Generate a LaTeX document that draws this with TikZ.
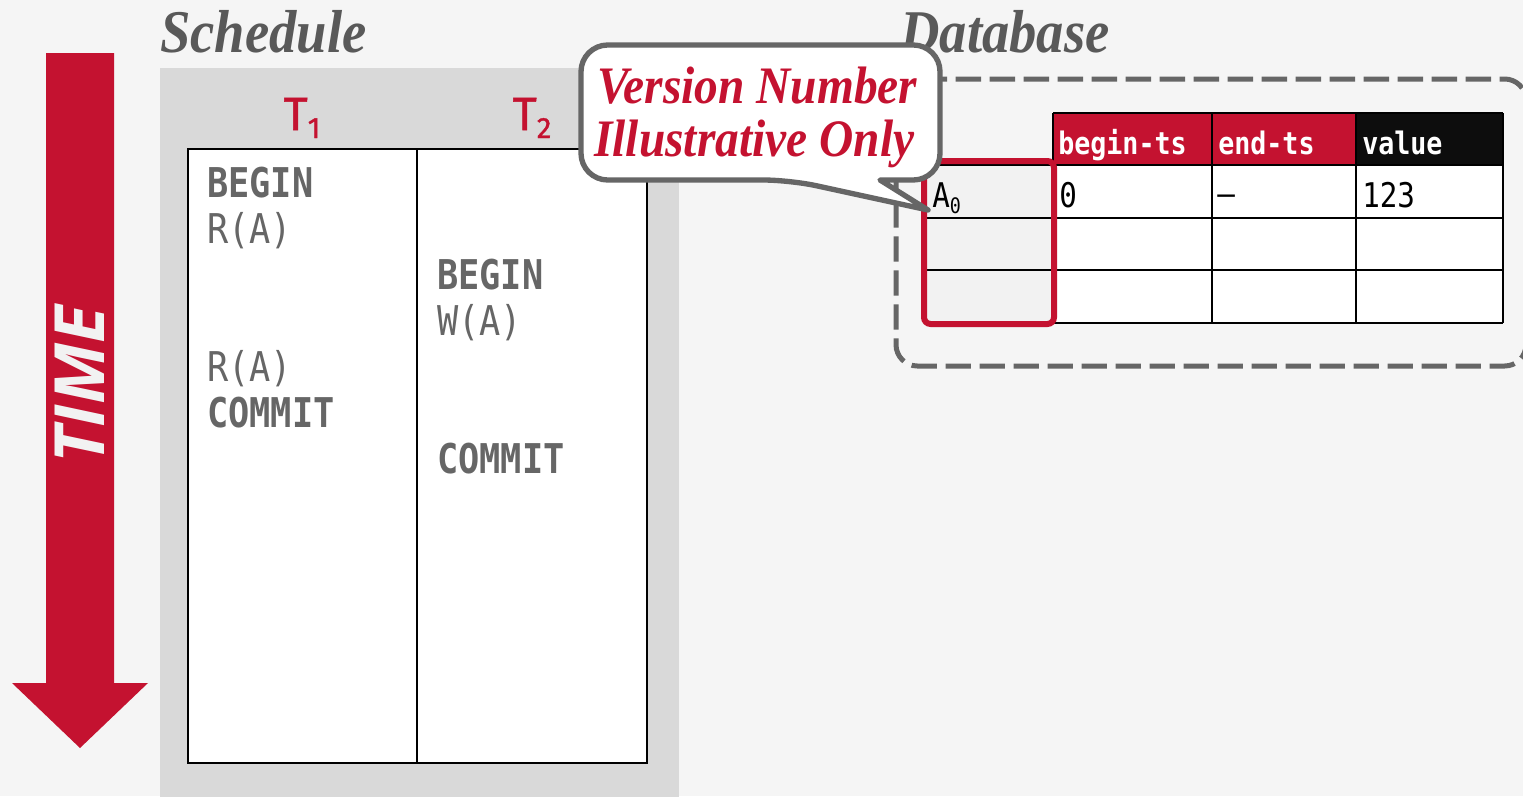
\documentclass[tikz,border=0pt]{standalone}
\usepackage{fontspec}
\setmainfont{Liberation Serif}
\newfontfamily\titlefont[FakeStretch=0.9]{Liberation Serif}
\newfontfamily\codefont[FakeStretch=0.86]{DejaVu Sans Mono}
\newfontfamily\labelfont[FakeBold=1.2]{Fira Sans}
\newfontfamily\arrowfont{Open Sans}
\definecolor{cmured}{HTML}{C41230}
\definecolor{pagebg}{HTML}{F5F5F5}
\definecolor{schedbg}{HTML}{D9D9D9}
\definecolor{inkgray}{HTML}{666666}
\definecolor{titlegray}{HTML}{595959}
\definecolor{keycell}{HTML}{F2F2F2}
\definecolor{headblack}{HTML}{0D0D0D}
\tikzset{
  heading/.style={anchor=base west, inner sep=0pt, text=titlegray,
    font=\titlefont\bfseries\itshape\fontsize{45.5pt}{45.5pt}\selectfont},
  txlabel/.style={anchor=base, inner sep=0pt, text=cmured,
    font=\labelfont\fontsize{35pt}{35pt}\selectfont},
  opbold/.style={anchor=base west, inner sep=0pt, text=inkgray,
    font=\codefont\bfseries\fontsize{30.75pt}{30.75pt}\selectfont},
  opplain/.style={anchor=base west, inner sep=0pt, text=inkgray,
    font=\codefont\fontsize{30.75pt}{30.75pt}\selectfont},
  colhead/.style={anchor=base west, inner sep=0pt, text=white,
    font=\codefont\bfseries\fontsize{23.25pt}{23.25pt}\selectfont},
  cellval/.style={anchor=base west, inner sep=0pt, text=black,
    font=\codefont\fontsize{25.5pt}{25.5pt}\selectfont},
  grid/.style={line width=1.5pt, draw=black},
  calloutline/.style={anchor=base west, inner sep=0pt, text=cmured,
    font=\titlefont\bfseries\itshape\fontsize{39.5pt}{39.5pt}\selectfont},
}
\begin{document}
\begin{tikzpicture}[x=0.75pt,y=-0.75pt]
\useasboundingbox (0,0) rectangle (1523,796);
\clip (0,0) rectangle (1523,796);
\fill[pagebg] (0,0) rectangle (1523,796);

% time arrow
\fill[cmured] (46,53) -- (114,53) -- (114,683) -- (148,683) -- (80,748)
  -- (12,683) -- (46,683) -- cycle;
\node[rotate=90, inner sep=0pt, text=keycell,
  font=\arrowfont\bfseries\itshape\fontsize{52pt}{52pt}\selectfont] (time) at (80,385) {TIME};

% schedule panel
\node[heading] (schedtitle) at (160,52) {Schedule};
\fill[schedbg] (160,68) rectangle (679,800);
\draw[line width=1.5pt, fill=white] (188,149) rectangle (647,763);
\draw[line width=1.5pt] (417,149) -- (417,763);

\node[txlabel] (t1) at (302,130) {T\raisebox{-6pt}{\fontsize{22pt}{22pt}\selectfont 1}};
\node[txlabel] (t2) at (532,130) {T\raisebox{-6pt}{\fontsize{22pt}{22pt}\selectfont 2}};

\node[opbold]  (a1) at (207,197) {BEGIN};
\node[opplain] (a2) at (207,243) {R(A)};
\node[opplain] (a3) at (207,381) {R(A)};
\node[opbold]  (a4) at (207,427) {COMMIT};
\node[opbold]  (b1) at (437,289) {BEGIN};
\node[opplain] (b2) at (437,335) {W(A)};
\node[opbold]  (b3) at (437,473) {COMMIT};

% database panel
\node[heading] (dbtitle) at (900,52) {Database};
\draw[inkgray, line width=3.75pt, dash pattern=on 19pt off 6.5pt, rounded corners=16pt]
  (896,79) rectangle (1526,366);

% version table
\fill[keycell] (925,165) rectangle (1053,323);
\fill[cmured] (1053,113) rectangle (1356,165);
\fill[headblack] (1356,113) rectangle (1503,165);
\fill[white] (1053,165) rectangle (1503,323);
\draw[grid] (1053,113) -- (1503,113);
\foreach \yy in {165,218,270,323} \draw[grid] (925,\yy) -- (1503,\yy);
\foreach \xx in {1053,1212,1356,1503} \draw[grid] (\xx,113) -- (\xx,323);

\node[colhead] (hbegin) at (1058,154) {begin-ts};
\node[colhead] (hend) at (1218,154) {end-ts};
\node[colhead] (hval) at (1362,154) {value};
\node[cellval] (key) at (932,207) {A\raisebox{-4.5pt}{\fontsize{16pt}{16pt}\selectfont 0}};
\node[cellval] (vbegin) at (1059,207) {0};
\node[cellval] (vend) at (1217,205) {–};
\node[cellval] (vval) at (1362,207) {123};

\draw[cmured, line width=4.5pt, rounded corners=5pt] (924,161) rectangle (1054,324);

% note bubble
\draw[inkgray, fill=white, line width=4pt, line join=round]
  (880,180) [rounded corners=20pt] -- (940,180) -- (940,45) -- (581,45) -- (581,180)
  -- (790,180) [sharp corners] -- (928,210) -- cycle;
\node[calloutline] (note1) at (597,103) {Version Number};
\node[calloutline] (note2) at (594,156) {Illustrative Only};
\end{tikzpicture}
\end{document}
